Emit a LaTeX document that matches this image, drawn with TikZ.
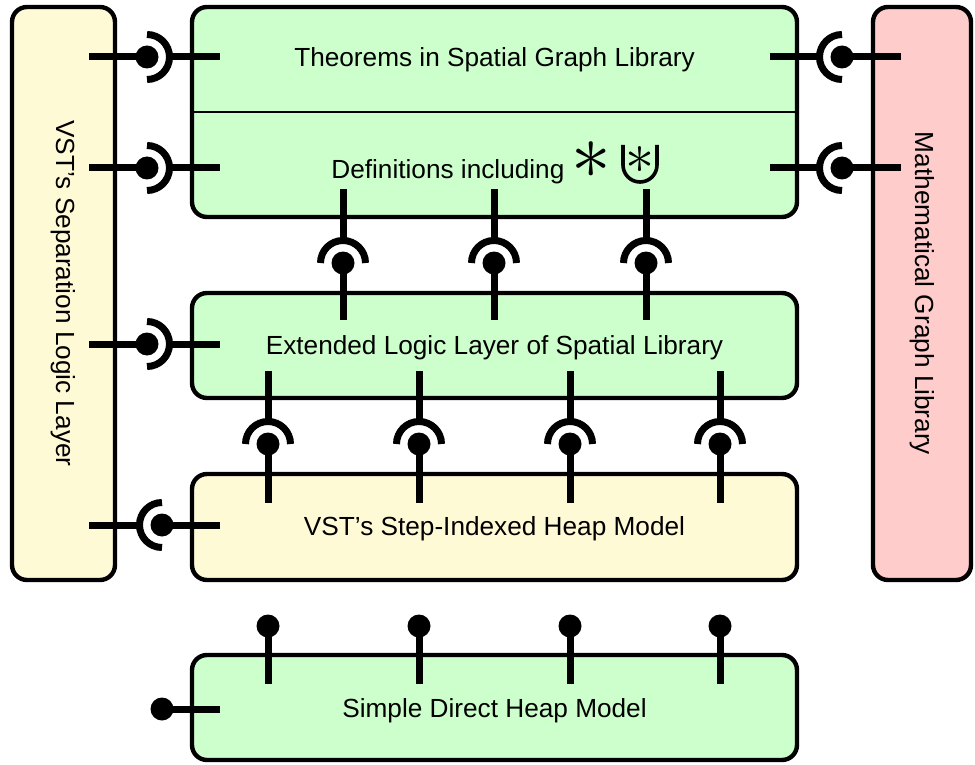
\documentclass[tikz,border=0pt]{standalone}
\usepackage{fontspec}
\setmainfont{Liberation Sans}
\usepackage{graphicx}
\usepackage{tikz}
\usetikzlibrary{calc}
\definecolor{boxgreen}{RGB}{204,255,204}
\definecolor{boxyellow}{RGB}{255,250,214}
\definecolor{boxpink}{RGB}{255,204,204}
\newcommand{\sepstar}[1]{\scalebox{#1}{$\ast$}}

\begin{document}
\begin{tikzpicture}[x=0.5pt,y=-0.5pt,
  box/.style={draw,line width=2.2pt,rounded corners=7.5pt,inner sep=0pt},
  txt/.style={inner sep=0pt,anchor=base,font=\fontsize{13.1}{16}\selectfont},
  wire/.style={line width=3.5pt},
  ball/.style={circle,fill,inner sep=0pt,minimum size=11.5pt}]
  \useasboundingbox (0,0) rectangle (975,765);
  % components
  \node[box,fill=boxyellow,minimum width=51.5pt,minimum height=286.5pt] (sep) at (63.5,293.5) {};
  \node[box,fill=boxpink,minimum width=49pt,minimum height=286.5pt] (math) at (922,293.5) {};
  \node[box,fill=boxgreen,minimum width=302.5pt,minimum height=105pt] (thm) at (494.5,112) {};
  \node[box,fill=boxgreen,minimum width=302.5pt,minimum height=52.5pt] (ext) at (494.5,345.5) {};
  \node[box,fill=boxyellow,minimum width=302.5pt,minimum height=53pt] (step) at (494.5,527) {};
  \node[box,fill=boxgreen,minimum width=302.5pt,minimum height=52.5pt] (simple) at (494.5,707.5) {};
  \draw[line width=0.75pt] (thm.west) -- (thm.east);
  % labels
  \node[txt,anchor=center,rotate=-90] (sepname) at (sep) {VST's Separation Logic Layer};
  \node[txt,anchor=center,rotate=-90] (mathname) at (math) {Mathematical Graph Library};
  \node[txt] (thmname) at (494.5,67) {Theorems in Spatial Graph Library};
  \node[txt,anchor=base west] (defname) at (331,178) {Definitions including \sepstar{3.3}};
  \node[inner sep=0pt] (ustar) at (640,160) {\sepstar{2.9}};
  \draw[line width=1.8pt] ($(ustar)+(-17,-15)$) -- ++(0,20)
    arc[start angle=180,end angle=0,radius=17] -- ++(0,-20);
  \node[txt] (extname) at (494.5,354) {Extended Logic Layer of Spatial Library};
  \node[txt] (stepname) at (494.5,535) {VST's Step-Indexed Heap Model};
  \node[txt] (simplename) at (494.5,717) {Simple Direct Heap Model};
  % left side: separation logic layer
  \foreach \y/\i/\b in {57/1/thm,168/2/thm,344/3/ext} {
    \node[ball] (sl\i) at (147,\y) {};
    \draw[wire] ($(sep.east |- sl\i)+(-28,0)$) -- (sl\i.center);
    \draw[wire] ($(sl\i)+(0,-22.5)$) arc[start angle=-90,end angle=90,radius=22.5];
    \draw[wire] ($(sl\i)+(22.5,0)$) -- ($(\b.west |- sl\i)+(30,0)$);
  }
  \node[ball] (ss) at (162,525) {};
  \draw[wire] (ss.center) -- ($(step.west |- ss)+(30,0)$);
  \draw[wire] ($(ss)+(0,22.5)$) arc[start angle=90,end angle=270,radius=22.5];
  \draw[wire] ($(sep.east |- ss)+(-28,0)$) -- ($(ss)+(-22.5,0)$);
  % right side: graph library
  \foreach \y/\i in {57/1,168/2} {
    \node[ball] (mg\i) at (842,\y) {};
    \draw[wire] (mg\i.center) -- ($(math.west |- mg\i)+(30,0)$);
    \draw[wire] ($(mg\i)+(0,22.5)$) arc[start angle=90,end angle=270,radius=22.5];
    \draw[wire] ($(thm.east |- mg\i)+(-29,0)$) -- ($(mg\i)+(-22.5,0)$);
  }
  % extended logic layer under the definitions
  \foreach \x/\i in {343/1,494/2,646/3} {
    \node[ball] (ed\i) at (\x,263) {};
    \draw[wire] (ed\i.center) -- ($(ext.north -| ed\i)+(0,29)$);
    \draw[wire] ($(ed\i)+(-22.5,0)$) arc[start angle=180,end angle=360,radius=22.5];
    \draw[wire] ($(thm.south -| ed\i)+(0,-30)$) -- ($(ed\i)+(0,-22.5)$);
  }
  % heap models under the extended layer
  \foreach \x/\i in {268/1,419/2,570/3,720/4} {
    \node[ball] (he\i) at (\x,444) {};
    \draw[wire] (he\i.center) -- ($(step.north -| he\i)+(0,31)$);
    \draw[wire] ($(he\i)+(-22.5,0)$) arc[start angle=180,end angle=360,radius=22.5];
    \draw[wire] ($(ext.south -| he\i)+(0,-29)$) -- ($(he\i)+(0,-22.5)$);
    \node[ball] (dh\i) at (\x,626) {};
    \draw[wire] (dh\i.center) -- ($(simple.north -| dh\i)+(0,31)$);
  }
  \node[ball] (dh0) at (162,709) {};
  \draw[wire] (dh0.center) -- ($(simple.west |- dh0)+(30,0)$);
\end{tikzpicture}
\end{document}
